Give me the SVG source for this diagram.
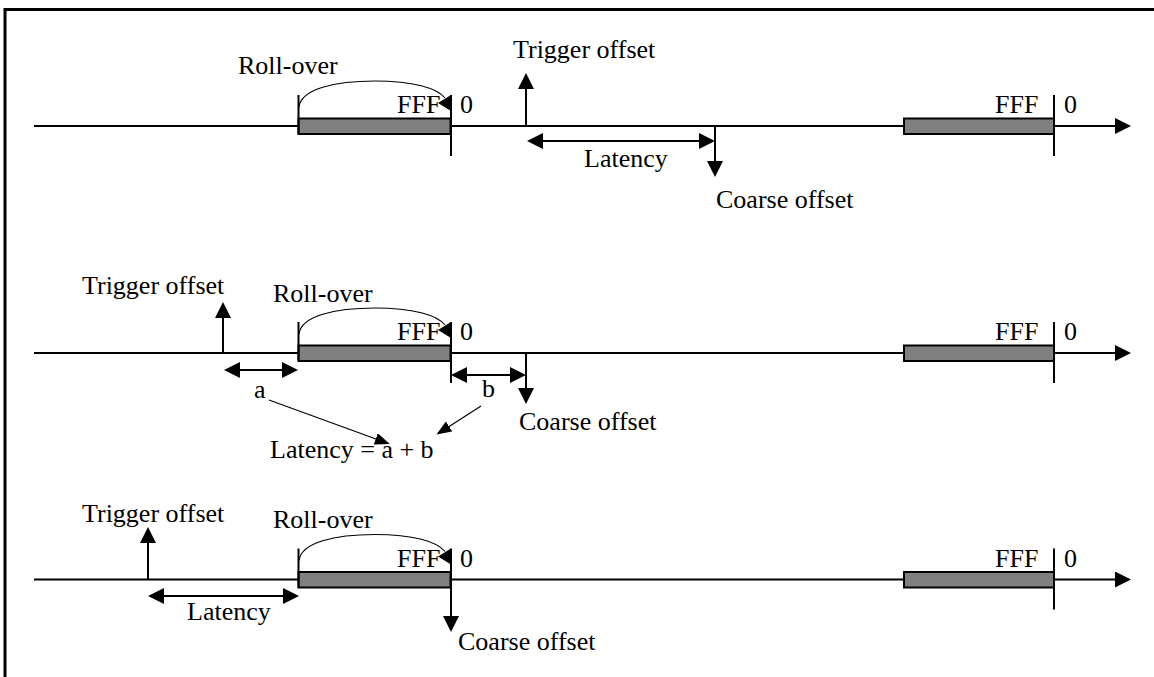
<svg xmlns="http://www.w3.org/2000/svg" width="1154" height="677" viewBox="0 0 1154 677">
<style>
text{font-family:"Liberation Serif","Times New Roman",serif;font-size:26px;fill:#000}
.ax{stroke:#000;stroke-width:2;fill:none}
.tk{stroke:#000;stroke-width:2;fill:none}
.bar{fill:#808080;stroke:#000;stroke-width:2}
.arc{stroke:#000;stroke-width:1.2;fill:none}
.thin{stroke:#000;stroke-width:1.2;fill:none}
</style>
<defs>
<marker id="ah" markerUnits="userSpaceOnUse" markerWidth="16" markerHeight="16" viewBox="0 0 16 16" refX="12" refY="8" orient="auto-start-reverse">
<path d="M0,0 L16,8 L0,16 z" fill="#000"/>
</marker>
<marker id="sm" markerUnits="userSpaceOnUse" markerWidth="15" markerHeight="12" viewBox="0 0 15 12" refX="12" refY="6" orient="auto">
<path d="M0,0 L15,6 L0,12 z" fill="#000"/>
</marker>
</defs>
<rect width="1154" height="677" fill="#fff"/>
<g id="frame">
<line x1="5" y1="8" x2="5" y2="677" stroke="#000" stroke-width="3"/>
<line x1="4" y1="9.5" x2="1154" y2="9.5" stroke="#000" stroke-width="3"/>
</g>

<!-- Row 1 -->
<g id="row1">
<g id="row1-axis">
<line class="ax" x1="34" y1="126" x2="1127" y2="126" marker-end="url(#ah)"/>
</g>
<g id="row1-bar1">
<rect class="bar" x="298.5" y="118.5" width="152" height="15.5"/>
<line class="tk" x1="298.5" y1="95" x2="298.5" y2="134"/>
<line class="tk" x1="451" y1="95" x2="451" y2="156"/>
<path class="arc" d="M299,107 C301,89 335,81 375,81 C413,81 437,88 445,98"/>
<polygon points="438,103 451,95 451,111" fill="#000"/>
<text x="238" y="74">Roll-over</text>
<text x="397" y="113">FFF</text>
<text x="460" y="113">0</text>
</g>
<g id="row1-bar2">
<rect class="bar" x="904" y="118.5" width="150" height="15.5"/>
<line class="tk" x1="1054" y1="95" x2="1054" y2="156"/>
<text x="995" y="113">FFF</text>
<text x="1064" y="113">0</text>
</g>
<g id="row1-trigger">
<text x="513" y="58">Trigger offset</text>
</g>
<g id="row1-latency">
<text x="584" y="167">Latency</text>
</g>
<g id="row1-coarse">
<text x="716" y="208">Coarse offset</text>
</g>
</g>

<!-- Row 2 -->
<g id="row2">
<g id="row2-axis">
<line class="ax" x1="34" y1="353" x2="1127" y2="353" marker-end="url(#ah)"/>
</g>
<g id="row2-bar1">
<rect class="bar" x="298.5" y="345.5" width="152" height="15.5"/>
<line class="tk" x1="298.5" y1="322" x2="298.5" y2="361"/>
<line class="tk" x1="451" y1="322" x2="451" y2="383"/>
<path class="arc" d="M299,334 C301,316 335,308 375,308 C413,308 437,315 445,325"/>
<polygon points="438,330 451,322 451,338" fill="#000"/>
<text x="273" y="302">Roll-over</text>
<text x="397" y="340">FFF</text>
<text x="460" y="340">0</text>
</g>
<g id="row2-bar2">
<rect class="bar" x="904" y="345.5" width="150" height="15.5"/>
<line class="tk" x1="1054" y1="322" x2="1054" y2="383"/>
<text x="995" y="340">FFF</text>
<text x="1064" y="340">0</text>
</g>
<g id="row2-trigger">
<text x="82" y="294">Trigger offset</text>
</g>
<g id="row2-a">
<text x="254" y="398">a</text>
</g>
<g id="row2-b">
<text x="482" y="397">b</text>
</g>
<g id="row2-sum">
<text x="270" y="458">Latency = a + b</text>
</g>
<g id="row2-coarse">
<text x="519" y="430">Coarse offset</text>
</g>
</g>

<!-- Row 3 -->
<g id="row3">
<g id="row3-axis">
<line class="ax" x1="34" y1="579.5" x2="1127" y2="579.5" marker-end="url(#ah)"/>
</g>
<g id="row3-bar1">
<rect class="bar" x="298.5" y="572" width="152" height="15.5"/>
<line class="tk" x1="298.5" y1="548.5" x2="298.5" y2="587.5"/>
<path class="arc" d="M299,560.5 C301,542.5 335,534.5 375,534.5 C413,534.5 437,541.5 445,551.5"/>
<polygon points="438,556.5 451,548.5 451,564.5" fill="#000"/>
<text x="273" y="528">Roll-over</text>
<text x="397" y="566.5">FFF</text>
<text x="460" y="566.5">0</text>
</g>
<g id="row3-bar2">
<rect class="bar" x="904" y="572" width="150" height="15.5"/>
<line class="tk" x1="1054" y1="548.5" x2="1054" y2="609.5"/>
<text x="995" y="566.5">FFF</text>
<text x="1064" y="566.5">0</text>
</g>
<g id="row3-trigger">
<text x="82" y="522">Trigger offset</text>
</g>
<g id="row3-latency">
<text x="187" y="620">Latency</text>
</g>
<g id="row3-coarse">
<text x="458" y="650">Coarse offset</text>
</g>
</g>

<g id="connectors">
<!-- row 1 -->
<line class="tk" x1="526" y1="126" x2="526" y2="77" marker-end="url(#ah)"/>
<line class="tk" x1="531" y1="141" x2="711" y2="141" marker-start="url(#ah)" marker-end="url(#ah)"/>
<line class="tk" x1="715" y1="126" x2="715" y2="173" marker-end="url(#ah)"/>
<!-- row 2 -->
<line class="tk" x1="223" y1="353" x2="223" y2="306" marker-end="url(#ah)"/>
<line class="tk" x1="228" y1="370" x2="294" y2="370" marker-start="url(#ah)" marker-end="url(#ah)"/>
<line class="tk" x1="455" y1="375" x2="522" y2="375" marker-start="url(#ah)" marker-end="url(#ah)"/>
<line class="tk" x1="526" y1="353" x2="526" y2="400" marker-end="url(#ah)"/>
<line class="thin" x1="269" y1="400" x2="387" y2="443" marker-end="url(#sm)"/>
<line class="thin" x1="481" y1="406" x2="439" y2="433" marker-end="url(#sm)"/>
<!-- row 3 -->
<line class="tk" x1="148" y1="579.5" x2="148" y2="531" marker-end="url(#ah)"/>
<line class="tk" x1="152" y1="596" x2="295" y2="596" marker-start="url(#ah)" marker-end="url(#ah)"/>
<line class="tk" x1="451" y1="548.5" x2="451" y2="628" marker-end="url(#ah)"/>
</g>
</svg>
